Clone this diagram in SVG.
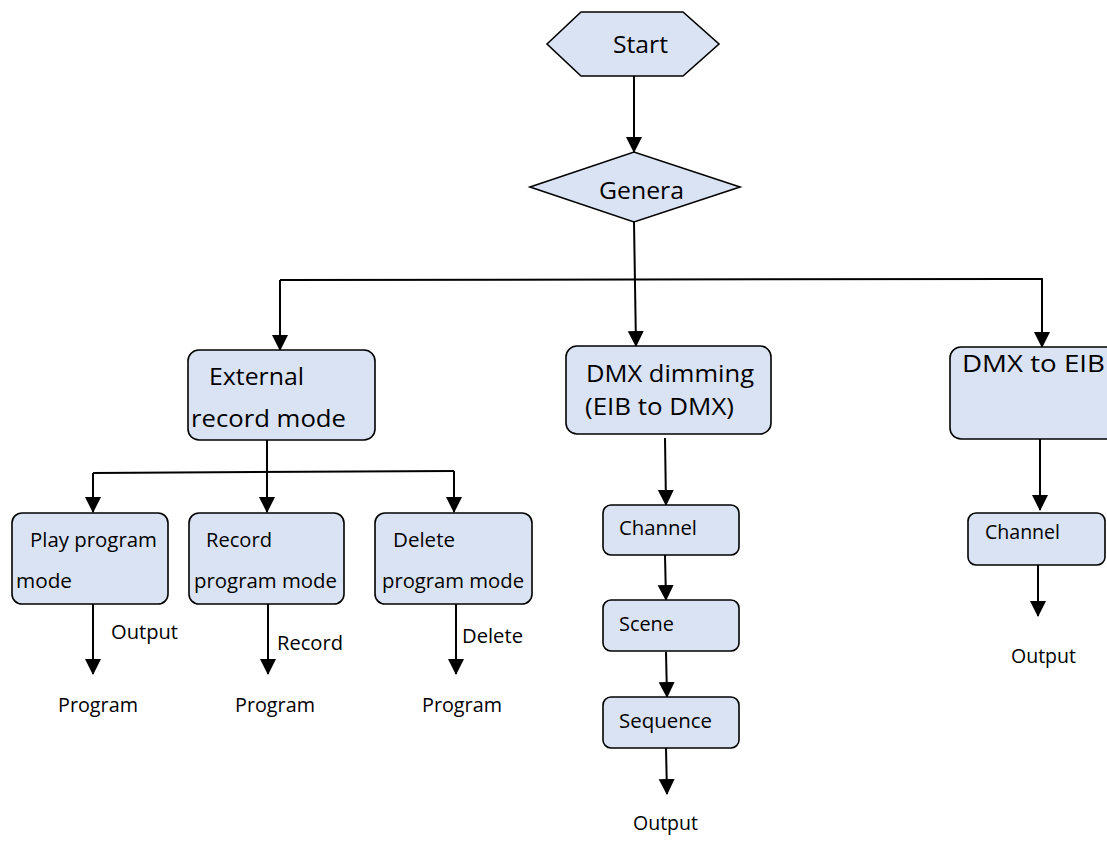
<svg xmlns="http://www.w3.org/2000/svg" width="1107" height="843" viewBox="0 0 1107 843">
<defs>
<style>
.box{fill:#dae3f3;stroke:#000;stroke-width:1.6}
.big{font-family:"Open Sans","Liberation Sans",sans-serif;font-size:24px;fill:#000}
.sm{font-family:"Open Sans","Liberation Sans",sans-serif;font-size:19.5px;fill:#000}
.ln{fill:none;stroke:#000;stroke-width:2}
.ar{fill:none;stroke:#000;stroke-width:2;marker-end:url(#ah)}
</style>
<marker id="ah" markerUnits="userSpaceOnUse" markerWidth="16" markerHeight="18" refX="15" refY="8" orient="auto" viewBox="0 0 16 16">
<path d="M0,0 L16,8 L0,16 Z" fill="#000"/>
</marker>
</defs>
<rect width="1107" height="843" fill="#fff"/>
<g id="connectors">
<path class="ar" d="M634,76 L634,152"/>
<path class="ar" d="M634,222 L636,346"/>
<path class="ln" d="M280,280 L1043,279"/>
<path class="ar" d="M280,280 L280,350"/>
<path class="ar" d="M1042,279 L1042,347"/>
<path class="ar" d="M267,440 L267,512"/>
<path class="ln" d="M93,473 L454,471"/>
<path class="ar" d="M93,473 L93,512"/>
<path class="ar" d="M454,471 L454,512"/>
<path class="ar" d="M93,604 L93,674"/>
<path class="ar" d="M268,604 L268,674"/>
<path class="ar" d="M456,604 L456,674"/>
<path class="ar" d="M665,438 L666,505"/>
<path class="ar" d="M665,555 L666,600"/>
<path class="ar" d="M666,652 L667,697"/>
<path class="ar" d="M666,748 L667,794"/>
<path class="ar" d="M1040,439 L1040,510"/>
<path class="ar" d="M1038,565 L1038,616"/>
</g>
<g id="start">
<polygon class="box" points="547,44 581,12 683,12 719,44 683,76 581,76"/>
<text class="big" x="613" y="53" textLength="55" lengthAdjust="spacingAndGlyphs">Start</text>
</g>
<g id="genera">
<polygon class="box" points="530,187 634,152 740,187 634,222"/>
<text class="big" x="599" y="199" textLength="85" lengthAdjust="spacingAndGlyphs">Genera</text>
</g>
<g id="external">
<rect class="box" x="188" y="350" width="187" height="90" rx="11"/>
<text class="big" x="209" y="385" textLength="95" lengthAdjust="spacingAndGlyphs">External</text>
<text class="big" x="191" y="427" textLength="155" lengthAdjust="spacingAndGlyphs">record mode</text>
</g>
<g id="dmx-dimming">
<rect class="box" x="566" y="346" width="205" height="88" rx="11"/>
<text class="big" x="586" y="382" textLength="168" lengthAdjust="spacingAndGlyphs">DMX dimming</text>
<text class="big" x="585" y="415" textLength="149" lengthAdjust="spacingAndGlyphs">(EIB to DMX)</text>
</g>
<g id="dmx-to-eib">
<rect class="box" x="950" y="347" width="170" height="92" rx="11"/>
<text class="big" x="962" y="372" textLength="143" lengthAdjust="spacingAndGlyphs">DMX to EIB</text>
</g>
<g id="play">
<rect class="box" x="12" y="513" width="156" height="91" rx="10"/>
<text class="sm" x="30" y="547" textLength="127" lengthAdjust="spacingAndGlyphs">Play program</text>
<text class="sm" x="16" y="588" textLength="56" lengthAdjust="spacingAndGlyphs">mode</text>
</g>
<g id="record">
<rect class="box" x="189" y="513" width="155" height="91" rx="10"/>
<text class="sm" x="206" y="547" textLength="66" lengthAdjust="spacingAndGlyphs">Record</text>
<text class="sm" x="194" y="588" textLength="143" lengthAdjust="spacingAndGlyphs">program mode</text>
</g>
<g id="delete">
<rect class="box" x="375" y="513" width="157" height="91" rx="10"/>
<text class="sm" x="393" y="547" textLength="62" lengthAdjust="spacingAndGlyphs">Delete</text>
<text class="sm" x="382" y="588" textLength="142" lengthAdjust="spacingAndGlyphs">program mode</text>
</g>
<g id="labels">
<text class="sm" x="111" y="639" textLength="67" lengthAdjust="spacingAndGlyphs">Output</text>
<text class="sm" x="277" y="650" textLength="66" lengthAdjust="spacingAndGlyphs">Record</text>
<text class="sm" x="462" y="643" textLength="61" lengthAdjust="spacingAndGlyphs">Delete</text>
<text class="sm" x="58" y="712" textLength="80" lengthAdjust="spacingAndGlyphs">Program</text>
<text class="sm" x="235" y="712" textLength="80" lengthAdjust="spacingAndGlyphs">Program</text>
<text class="sm" x="422" y="712" textLength="80" lengthAdjust="spacingAndGlyphs">Program</text>
<text class="sm" x="633" y="830" textLength="65" lengthAdjust="spacingAndGlyphs">Output</text>
<text class="sm" x="1011" y="663" textLength="65" lengthAdjust="spacingAndGlyphs">Output</text>
</g>
<g id="channel1">
<rect class="box" x="603" y="505" width="136" height="50" rx="8"/>
<text class="sm" x="619" y="535" textLength="78" lengthAdjust="spacingAndGlyphs">Channel</text>
</g>
<g id="scene">
<rect class="box" x="603" y="600" width="136" height="51" rx="8"/>
<text class="sm" x="619" y="631" textLength="55" lengthAdjust="spacingAndGlyphs">Scene</text>
</g>
<g id="sequence">
<rect class="box" x="603" y="697" width="136" height="51" rx="8"/>
<text class="sm" x="619" y="728" textLength="93" lengthAdjust="spacingAndGlyphs">Sequence</text>
</g>
<g id="channel2">
<rect class="box" x="968" y="513" width="137" height="52" rx="8"/>
<text class="sm" x="985" y="539" textLength="75" lengthAdjust="spacingAndGlyphs">Channel</text>
</g>
</svg>
